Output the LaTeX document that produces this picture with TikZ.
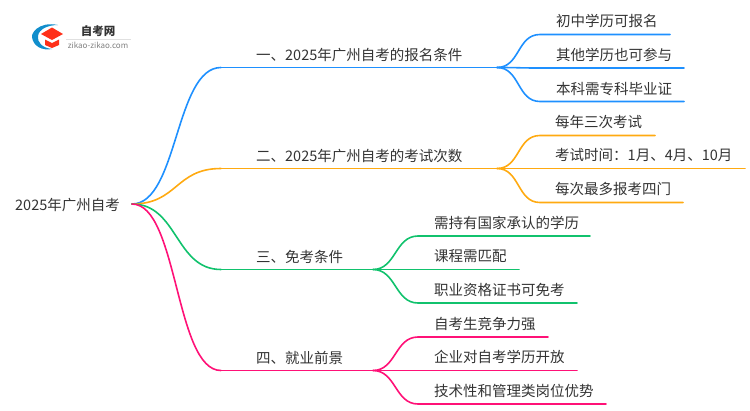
\documentclass[tikz,border=0pt]{standalone}
\usepackage{fontspec}
\setmainfont{Noto Sans CJK SC}
\usetikzlibrary{calc}
\definecolor{cblue}{HTML}{1E90FF}
\definecolor{corange}{HTML}{FFAA11}
\definecolor{cgreen}{HTML}{11C26D}
\definecolor{cpink}{HTML}{FF1177}
\definecolor{ctext}{HTML}{333333}
\tikzset{
  lbl/.style={anchor=base west,inner sep=0pt,text=ctext,font=\fontsize{14.5pt}{16pt}\selectfont},
  wire/.style={line width=1.6pt,line cap=round},
}
\newcommand{\curve}[4]{\draw[wire,#1] (#2) .. controls ($(#2)+(#4,0)$) and ($(#3)-(#4,0)$) .. (#3);}
\begin{document}
\begin{tikzpicture}[x=1pt,y=-1pt]
\useasboundingbox (0,0) rectangle (750,410);
% logo
\fill[cblue!70!cyan!80!black] (58,25) .. controls (38,21) and (31,34) .. (32,37) .. controls (33,46) and (42,51) .. (52,49) .. controls (42,48) and (37,42) .. (38,36) .. controls (39,29) and (48,25) .. (58,25) -- cycle;
\fill[red!80!orange!90!white] (41,34) -- (52,27.5) -- (63,34) -- (52,40) -- cycle;
\fill[red!80!orange!90!white] (45,39.5) -- (52,43) -- (59,39.5) -- (59,45) -- (52,48) -- (45,45) -- cycle;
\node[inner sep=0pt,text=ctext] (logotitle) at (98,31) {\fontsize{11.5pt}{12pt}\bfseries 自考网};
\node[inner sep=0pt,text=gray] (logosub) at (98,45) {\fontsize{8pt}{8pt}\selectfont zikao-zikao.com};
\draw[black!12,line width=0.5pt] (66,39) -- (131,39);
% root
\node[lbl] (root) at (15,210.5) {2025年广州自考};
\coordinate (r) at (132,204);
% branches
\node[lbl] (b1) at (256,60) {一、2025年广州自考的报名条件};
\node[lbl] (b2) at (256,161) {二、2025年广州自考的考试次数};
\node[lbl] (b3) at (256,262) {三、免考条件};
\node[lbl] (b4) at (256,363) {四、就业前景};
\coordinate (b1a) at (221,67.5); \coordinate (b1b) at (497,67.5);
\coordinate (b2a) at (221,168.5); \coordinate (b2b) at (497,168.5);
\coordinate (b3a) at (221,269.5); \coordinate (b3b) at (373,269.5);
\coordinate (b4a) at (221,370.5); \coordinate (b4b) at (373,370.5);
\foreach \a/\b/\c in {b1a/b1b/cblue,b2a/b2b/corange,b3a/b3b/cgreen,b4a/b4b/cpink}{\draw[wire,\c] (\a) -- (\b);}
\curve{cblue}{r}{b1a}{46}
\curve{corange}{r}{b2a}{46}
\curve{cgreen}{r}{b3a}{46}
\curve{cpink}{r}{b4a}{46}
% leaves
\node[lbl] (l11) at (556,26.5) {初中学历可报名};
\node[lbl] (l12) at (556,60) {其他学历也可参与};
\node[lbl] (l13) at (556,94) {本科需专科毕业证};
\node[lbl] (l21) at (555,127) {每年三次考试};
\node[lbl] (l22) at (555,160.5) {考试时间：1月、4月、10月};
\node[lbl] (l23) at (555,194.5) {每次最多报考四门};
\node[lbl] (l31) at (434,228) {需持有国家承认的学历};
\node[lbl] (l32) at (434,261.5) {课程需匹配};
\node[lbl] (l33) at (434,295) {职业资格证书可免考};
\node[lbl] (l41) at (434,329) {自考生竞争力强};
\node[lbl] (l42) at (434,362.5) {企业对自考学历开放};
\node[lbl] (l43) at (434,396.5) {技术性和管理类岗位优势};
\foreach \n/\sx/\sy/\ex/\ey/\fx/\col in {
 a/497/67.5/540/34.5/670/cblue,
 b/497/67.5/540/68/684/cblue,
 c/497/67.5/540/101.5/684/cblue,
 d/497/168.5/540/135.5/655/corange,
 e/497/168.5/540/168.5/745/corange,
 f/497/168.5/540/202.5/683/corange,
 g/373/269.5/418/236/590/cgreen,
 h/373/269.5/418/269.5/519/cgreen,
 i/373/269.5/418/303/577/cgreen,
 j/373/370.5/418/337/548/cpink,
 k/373/370.5/418/370.5/577/cpink,
 m/373/370.5/418/404/606/cpink}{
  \coordinate (s\n) at (\sx,\sy);
  \coordinate (m\n) at (\ex,\ey);
  \coordinate (t\n) at (\fx,\ey);
  \draw[wire,\col] (s\n) .. controls ($(s\n)+(23,0)$) and ($(m\n)-(23,0)$) .. (m\n) -- (t\n);
}
\end{tikzpicture}
\end{document}
